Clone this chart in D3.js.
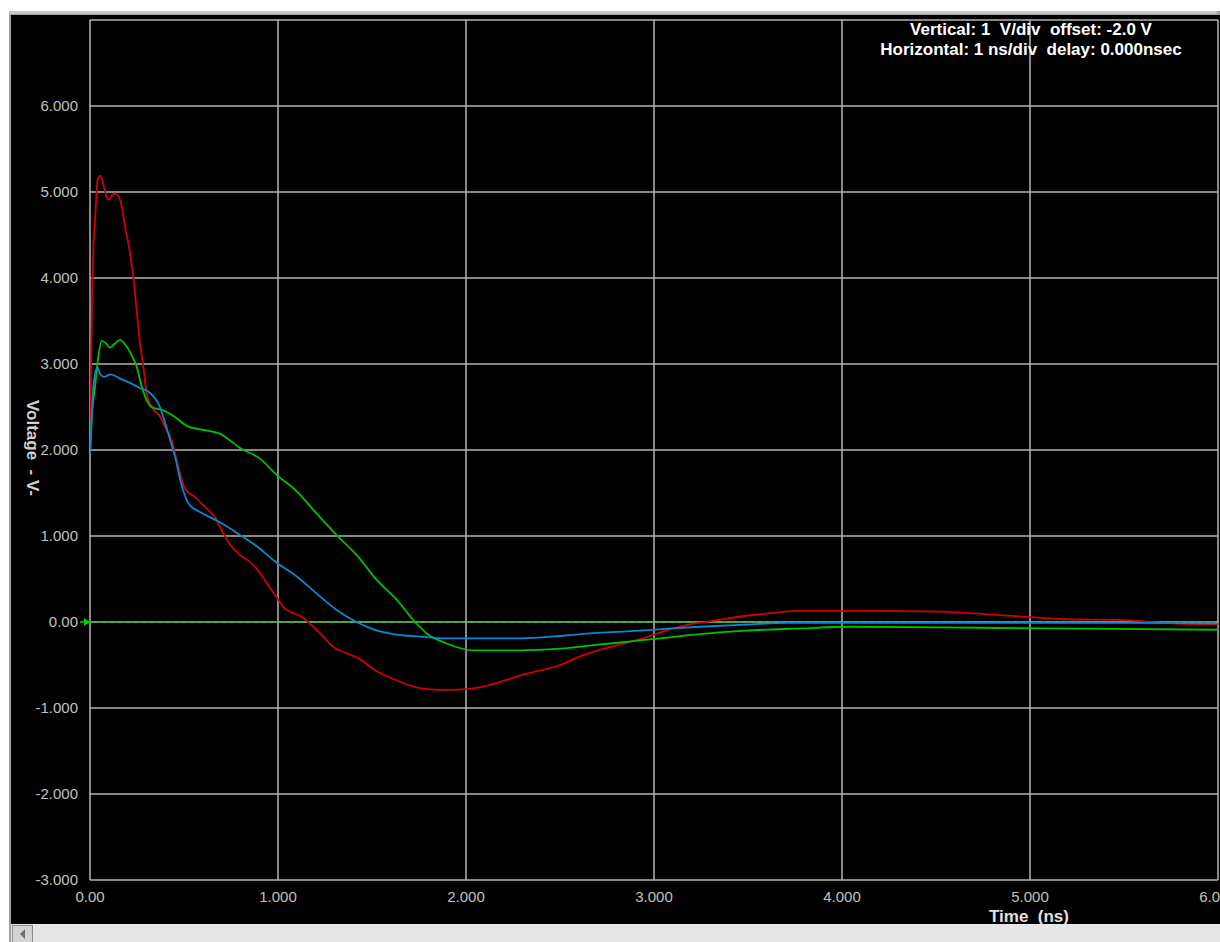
<!DOCTYPE html>
<html>
<head>
<meta charset="utf-8">
<script src="https://cdn.jsdelivr.net/npm/d3@7"></script>
<style>
  body { margin: 0; background: #fff; }
  svg { display: block; }
  text { font-family: "Liberation Sans", Arial, sans-serif; }
</style>
</head>
<body>
<div id="chart"></div>
<script>
// scope traces (time in ns, volts)
const redT = [0, 0.005, 0.012, 0.018, 0.027, 0.041, 0.057, 0.075, 0.09, 0.103, 0.12, 0.133, 0.16, 0.186, 0.213, 0.23, 0.248, 0.266, 0.284, 0.301, 0.328, 0.372, 0.408, 0.434, 0.47, 0.505, 0.56, 0.62, 0.665, 0.7, 0.745, 0.798, 0.85, 0.904, 0.95, 0.993, 1.03, 1.064, 1.126, 1.16, 1.223, 1.294, 1.36, 1.427, 1.516, 1.622, 1.755, 1.86, 2.0, 2.13, 2.29, 2.5, 2.606, 2.766, 2.926, 3.085, 3.21, 3.28, 3.387, 3.564, 3.777, 4.1, 4.52, 4.84, 5.16, 5.53, 5.7, 6.0]
const redV = [2.0, 2.9, 3.86, 4.36, 4.67, 5.15, 5.19, 5.05, 4.93, 4.91, 4.97, 4.98, 4.91, 4.6, 4.29, 4.02, 3.63, 3.24, 2.97, 2.66, 2.5, 2.39, 2.23, 2.12, 1.8, 1.55, 1.45, 1.32, 1.22, 1.07, 0.9, 0.78, 0.7, 0.57, 0.42, 0.29, 0.17, 0.12, 0.06, 0.0, -0.13, -0.29, -0.36, -0.42, -0.56, -0.67, -0.77, -0.79, -0.78, -0.73, -0.62, -0.5, -0.4, -0.29, -0.2, -0.085, -0.02, 0.0, 0.04, 0.09, 0.13, 0.13, 0.12, 0.08, 0.035, 0.02, -0.01, -0.03]

const blueT = [0, 0.008, 0.018, 0.039, 0.055, 0.074, 0.11, 0.16, 0.213, 0.266, 0.31, 0.346, 0.372, 0.4, 0.426, 0.455, 0.48, 0.53, 0.585, 0.69, 0.8, 0.887, 0.993, 1.1, 1.206, 1.312, 1.418, 1.507, 1.613, 1.755, 1.897, 2.07, 2.29, 2.5, 2.677, 2.855, 3.03, 3.245, 3.49, 3.71, 4.5, 5.5, 6.0]
const blueV = [1.95, 2.3, 2.74, 2.96, 2.88, 2.85, 2.88, 2.83, 2.78, 2.72, 2.68, 2.6, 2.5, 2.31, 2.12, 1.9, 1.65, 1.36, 1.28, 1.16, 1.01, 0.88, 0.69, 0.53, 0.33, 0.14, 0.0, -0.085, -0.14, -0.17, -0.19, -0.19, -0.19, -0.163, -0.13, -0.11, -0.085, -0.055, -0.03, -0.01, -0.01, -0.01, -0.015]

const greenT = [0, 0.005, 0.027, 0.044, 0.062, 0.085, 0.106, 0.124, 0.16, 0.186, 0.222, 0.248, 0.275, 0.301, 0.328, 0.39, 0.461, 0.514, 0.585, 0.638, 0.69, 0.727, 0.8, 0.904, 0.993, 1.1, 1.206, 1.312, 1.418, 1.525, 1.631, 1.729, 1.79, 1.897, 2.04, 2.29, 2.5, 2.68, 2.855, 3.03, 3.245, 3.49, 3.78, 4.04, 4.84, 6.0]
const greenV = [1.95, 2.23, 2.74, 3.08, 3.27, 3.24, 3.19, 3.22, 3.28, 3.23, 3.1, 2.97, 2.74, 2.58, 2.5, 2.46, 2.37, 2.28, 2.24, 2.22, 2.19, 2.14, 2.02, 1.9, 1.71, 1.52, 1.26, 1.01, 0.78, 0.49, 0.26, 0.0, -0.13, -0.25, -0.33, -0.33, -0.31, -0.27, -0.23, -0.19, -0.14, -0.1, -0.075, -0.055, -0.07, -0.09]

const xTicks = [0, 1, 2, 3, 4, 5, 6]
const xTickLabels = ['0.00', '1.000', '2.000', '3.000', '4.000', '5.000', '6.000']
const yTicks = [6, 5, 4, 3, 2, 1, 0, -1, -2, -3]
const yTickLabels = ['6.000', '5.000', '4.000', '3.000', '2.000', '1.000', '0.00', '-1.000', '-2.000', '-3.000']
const yGrid = [-3, -2, -1, 0, 1, 2, 3, 4, 5, 6, 7]

const W = 1220, H = 942
const nb = s => s.replace(/ /g, '\u00a0') // keep the double spaces

const svg = d3.select('#chart').append('svg')
  .attr('width', W)
  .attr('height', H)

// window frame
svg.append('rect').attr('x', 0).attr('y', 0).attr('width', W).attr('height', H).attr('fill', '#fff')
svg.append('rect').attr('x', 9).attr('y', 11).attr('width', W - 9).attr('height', H - 11).attr('fill', '#a0a0a0')
svg.append('rect').attr('x', 9).attr('y', 11).attr('width', 1208).attr('height', 3).attr('fill', '#c8c8c8')
svg.append('rect').attr('x', 11).attr('y', 15).attr('width', W - 11).attr('height', 909).attr('fill', '#000')

const x = d3.scaleLinear().domain([0, 6]).range([90, 1218])
const y = d3.scaleLinear().domain([-3, 7]).range([880, 20])

const gridColor = '#b4b4b4'
const grid = svg.append('g')

grid.selectAll('line.v')
  .data(xTicks)
  .join('line')
  .attr('class', 'v')
  .attr('x1', d => x(d)).attr('x2', d => x(d))
  .attr('y1', y(7)).attr('y2', y(-3))
  .attr('stroke', gridColor)
  .attr('stroke-width', 1.5)

grid.selectAll('line.h')
  .data(yGrid)
  .join('line')
  .attr('class', 'h')
  .attr('x1', x(0)).attr('x2', x(6))
  .attr('y1', d => y(d)).attr('y2', d => y(d))
  .attr('stroke', gridColor)
  .attr('stroke-width', 1.5)

// ground reference marker
svg.append('line')
  .attr('x1', x(0)).attr('x2', x(6))
  .attr('y1', y(0)).attr('y2', y(0))
  .attr('stroke', '#00c800')
  .attr('stroke-width', 1.5)
  .attr('stroke-dasharray', '4,4')
svg.append('line')
  .attr('x1', 80).attr('x2', 88)
  .attr('y1', y(0)).attr('y2', y(0))
  .attr('stroke', '#00d000')
  .attr('stroke-width', 1.5)
svg.append('path')
  .attr('d', `M${x(0) - 6},${y(0) - 4}L${x(0)},${y(0)}L${x(0) - 6},${y(0) + 4}Z`)
  .attr('fill', '#00d000')

// tick labels
svg.append('g').selectAll('text')
  .data(yTicks)
  .join('text')
  .attr('x', 78)
  .attr('y', d => y(d))
  .attr('dy', '0.36em')
  .attr('text-anchor', 'end')
  .attr('fill', '#c0c0c0')
  .style('font-size', '15px')
  .text((d, i) => yTickLabels[i])

svg.append('g').selectAll('text')
  .data(xTicks)
  .join('text')
  .attr('x', d => x(d))
  .attr('y', 902)
  .attr('text-anchor', 'middle')
  .attr('fill', '#c0c0c0')
  .style('font-size', '15px')
  .text((d, i) => xTickLabels[i])

// traces
svg.append('clipPath').attr('id', 'plotClip')
  .append('rect').attr('x', x(0)).attr('y', y(7)).attr('width', x(6) - x(0)).attr('height', y(-3) - y(7))

const line = d3.line()
  .x(d => x(d[0]))
  .y(d => y(d[1]))
  .curve(d3.curveMonotoneX)

const traces = [
  { name: 'red', color: '#d00000', pts: d3.zip(redT, redV) },
  { name: 'green', color: '#00c000', pts: d3.zip(greenT, greenV) },
  { name: 'blue', color: '#0a88d0', pts: d3.zip(blueT, blueV) },
]

svg.append('g')
  .attr('clip-path', 'url(#plotClip)')
  .selectAll('path')
  .data(traces)
  .join('path')
  .attr('d', d => line(d.pts))
  .attr('fill', 'none')
  .attr('stroke', d => d.color)
  .attr('stroke-width', 1.8)

// settings readout
const info = svg.append('g')
  .attr('fill', '#fff')
  .style('font-size', '17px')
  .style('font-weight', 'bold')
  .attr('text-anchor', 'middle')
info.append('text').attr('x', 1031).attr('y', 35).text(nb('Vertical: 1  V/div  offset: -2.0 V'))
info.append('text').attr('x', 1031).attr('y', 55).text(nb('Horizontal: 1 ns/div  delay: 0.000nsec'))

// axis titles
svg.append('text')
  .attr('x', 1029).attr('y', 922)
  .attr('text-anchor', 'middle')
  .attr('fill', '#e0e0e0')
  .style('font-size', '17px')
  .style('font-weight', 'bold')
  .text(nb('Time  (ns)'))

svg.append('text')
  .attr('transform', 'translate(27,448) rotate(90)')
  .attr('text-anchor', 'middle')
  .attr('fill', '#d0d0d0')
  .style('font-size', '17px')
  .style('font-weight', 'bold')
  .text(nb('Voltage  - V-'))

// scrollbar strip
svg.append('rect').attr('x', 11).attr('y', 924).attr('width', W - 11).attr('height', 18).attr('fill', '#e6e6e6')
svg.append('rect').attr('x', 12.5).attr('y', 925.5).attr('width', 20).attr('height', 17).attr('fill', '#d4d4d4').attr('stroke', '#8c8c8c')
svg.append('path').attr('d', 'M20,934L25,929L25,939Z').attr('fill', '#707070')
</script>
</body>
</html>
